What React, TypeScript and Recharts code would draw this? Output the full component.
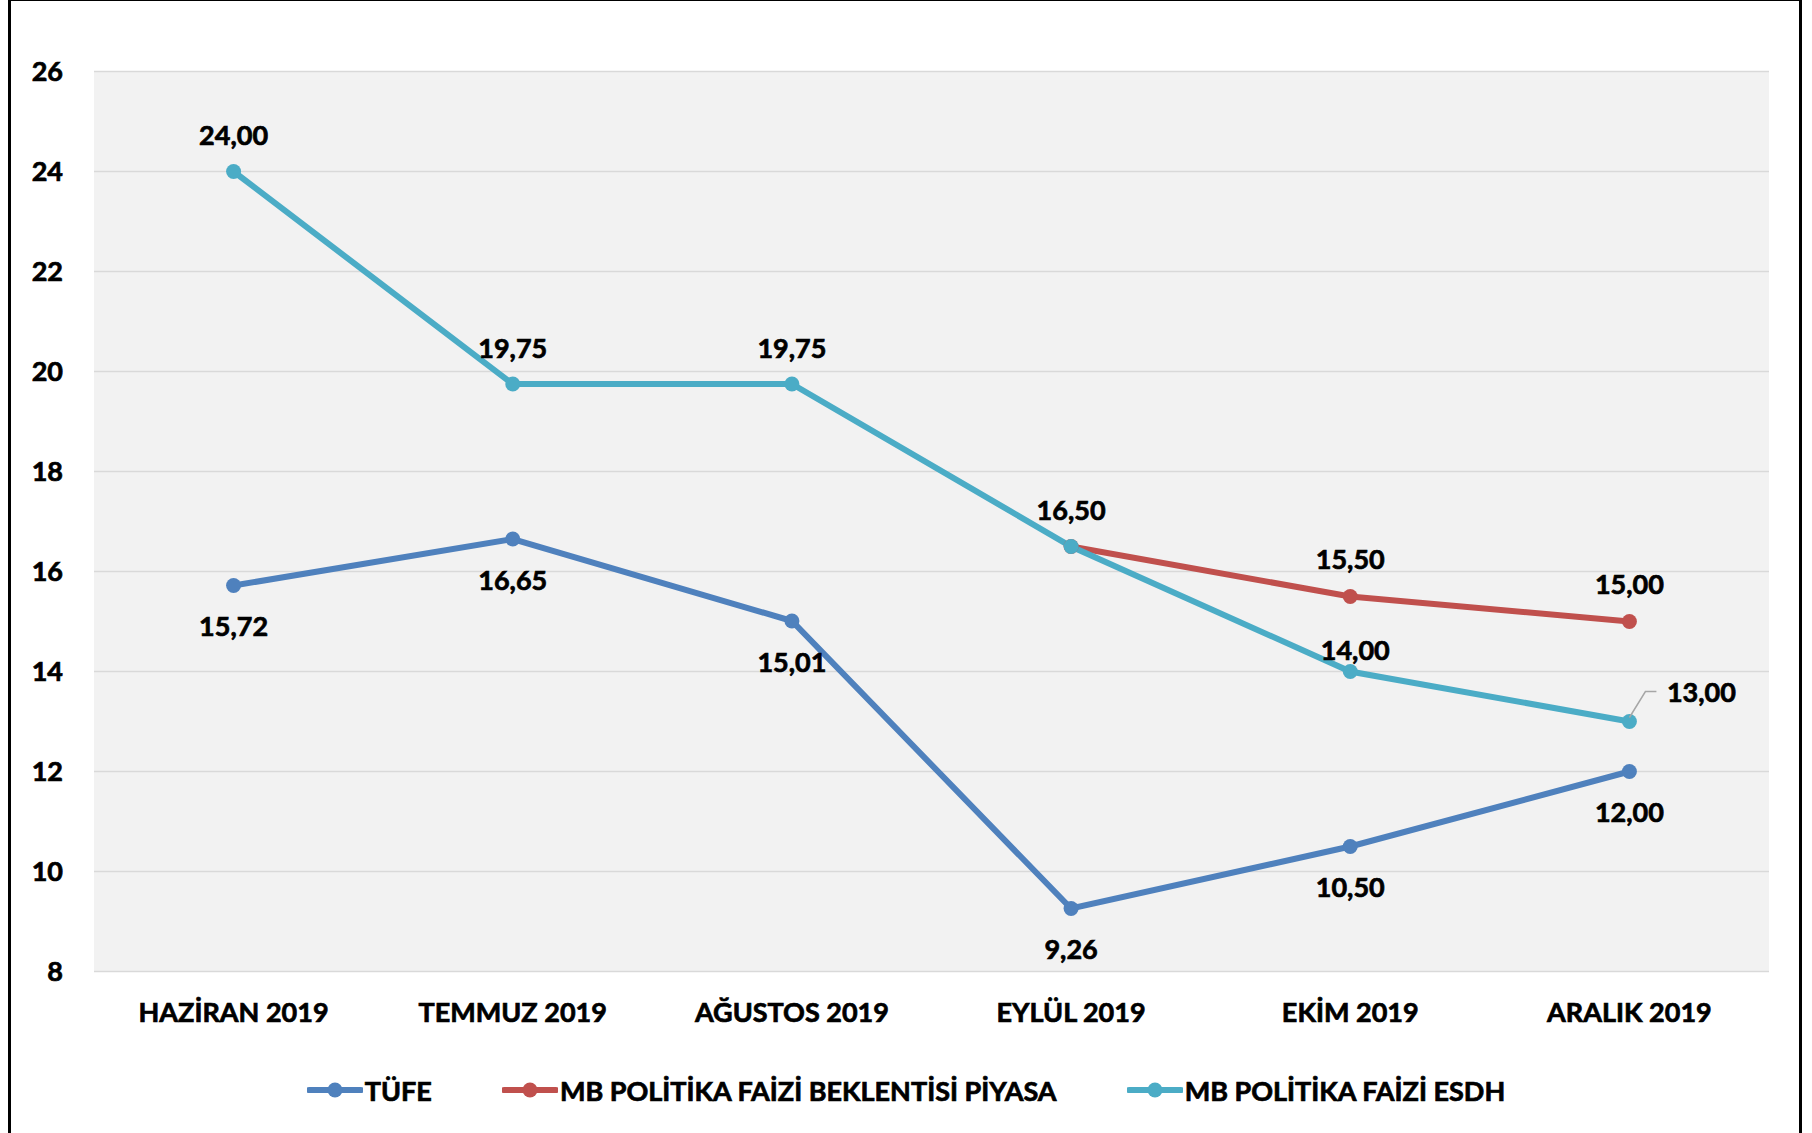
import { CartesianGrid, LabelList, Line, LineChart, XAxis, YAxis } from 'recharts';

const months = ['HAZİRAN 2019', 'TEMMUZ 2019', 'AĞUSTOS 2019', 'EYLÜL 2019', 'EKİM 2019', 'ARALIK 2019'];
const tufe = [15.72, 16.65, 15.01, 9.26, 10.5, 12.0];
const piyasa = [null, null, null, 16.5, 15.5, 15.0];
const esdh = [24.0, 19.75, 19.75, 16.5, 14.0, 13.0];
const yTicks = [8, 10, 12, 14, 16, 18, 20, 22, 24, 26];

const seriesNames = ['TÜFE', 'MB POLİTİKA FAİZİ BEKLENTİSİ PİYASA', 'MB POLİTİKA FAİZİ ESDH'];
const colors = ['#4F81BD', '#C0504D', '#4BACC6'];

const data = months.map((m, i) => ({ month: m, tufe: tufe[i], piyasa: piyasa[i], esdh: esdh[i] }));

const FONT = 'Lato, "Open Sans", sans-serif';
const fmt = (v: number) => v.toFixed(2).replace('.', ',');

// a thin stroke makes Lato Bold look closer to the heavier original face
const textStyle = { fontFamily: FONT, fontWeight: 700, fontSize: 27, fill: '#000', stroke: '#000', strokeWidth: 0.7 };

// plot is 1675px wide, 6 categories -> half a band of padding on each side
const HALF_BAND = 1675 / 12;

// label below the point (TÜFE)
function BelowLabel(props: any) {
  const { x, y, value } = props;
  if (value == null) return null;
  return (
    <text x={x} y={y + 40} textAnchor="middle" dominantBaseline="central" style={textStyle}>
      {fmt(value)}
    </text>
  );
}

// label above the point; Eylül is shared with ESDH so skip it here
function PiyasaLabel(props: any) {
  const { x, y, value, index } = props;
  if (value == null || index === 3) return null;
  return (
    <text x={x} y={y - 38} textAnchor="middle" dominantBaseline="central" style={textStyle}>
      {fmt(value)}
    </text>
  );
}

function EsdhLabel(props: any) {
  const { x, y, value, index } = props;
  if (value == null) return null;
  if (index === 5) {
    // pushed to the right with a leader line
    return (
      <g>
        <path d={`M${x},${y - 4} L${x + 16},${y - 30} L${x + 27},${y - 30}`} stroke="#A6A6A6" strokeWidth={1.5} fill="none" />
        <text x={x + 72} y={y - 30} textAnchor="middle" dominantBaseline="central" style={textStyle}>
          {fmt(value)}
        </text>
      </g>
    );
  }
  const dy = index === 4 ? -22 : -37;
  const dx = index === 4 ? 5 : 0;
  return (
    <text x={x + dx} y={y + dy} textAnchor="middle" dominantBaseline="central" style={textStyle}>
      {fmt(value)}
    </text>
  );
}

function LegendIcon({ color }: { color: string }) {
  return (
    <svg width={56} height={16} style={{ display: 'block' }}>
      <line x1={2} y1={8} x2={54} y2={8} stroke={color} strokeWidth={6} strokeLinecap="round" />
      <circle cx={28} cy={8} r={7.5} fill={color} />
    </svg>
  );
}

export default function App() {
  const dot = (c: string) => ({ r: 7.5, fill: c, stroke: c, strokeWidth: 0 });
  return (
    <div style={{ position: 'absolute', left: 0, top: 0, width: 1812, height: 1133, overflow: 'hidden', background: '#fff' }}>
      <div
        style={{
          position: 'absolute',
          left: 8,
          top: -2,
          width: 1794,
          height: 1200,
          boxSizing: 'border-box',
          border: '3px solid #000',
        }}
      />
      <div style={{ position: 'absolute', left: 0, top: 0 }}>
        <LineChart width={1812} height={1133} data={data} margin={{ top: 71.5, right: 43, bottom: 101.5, left: 34 }}>
          <CartesianGrid vertical={false} stroke="#D9D9D9" strokeWidth={1.5} fill="#F2F2F2" />
          <XAxis
            dataKey="month"
            axisLine={false}
            tickLine={false}
            tickSize={0}
            tickMargin={31}
            height={60}
            interval={0}
            padding={{ left: HALF_BAND, right: HALF_BAND }}
            tick={textStyle}
          />
          <YAxis
            type="number"
            domain={[8, 26]}
            ticks={yTicks}
            axisLine={false}
            tickLine={false}
            tickSize={0}
            tickMargin={31}
            width={60}
            interval={0}
            tick={textStyle}
          />
          <Line dataKey="tufe" stroke={colors[0]} strokeWidth={6} dot={dot(colors[0])} activeDot={false} isAnimationActive={false}>
            <LabelList dataKey="tufe" content={BelowLabel} />
          </Line>
          <Line dataKey="piyasa" stroke={colors[1]} strokeWidth={6} dot={dot(colors[1])} activeDot={false} isAnimationActive={false}>
            <LabelList dataKey="piyasa" content={PiyasaLabel} />
          </Line>
          <Line dataKey="esdh" stroke={colors[2]} strokeWidth={6} dot={dot(colors[2])} activeDot={false} isAnimationActive={false}>
            <LabelList dataKey="esdh" content={EsdhLabel} />
          </Line>
        </LineChart>
      </div>
      <div
        style={{
          position: 'absolute',
          left: 0,
          top: 1072,
          width: 1812,
          height: 36,
          display: 'flex',
          justifyContent: 'center',
          alignItems: 'center',
          gap: 70,
          fontFamily: FONT,
          fontWeight: 700,
          fontSize: 27,
          color: '#000',
          WebkitTextStroke: '0.7px #000',
        }}
      >
        {seriesNames.map((name, i) => (
          <div key={name} style={{ display: 'flex', alignItems: 'center', gap: 2 }}>
            <LegendIcon color={colors[i]} />
            <span>{name}</span>
          </div>
        ))}
      </div>
    </div>
  );
}
